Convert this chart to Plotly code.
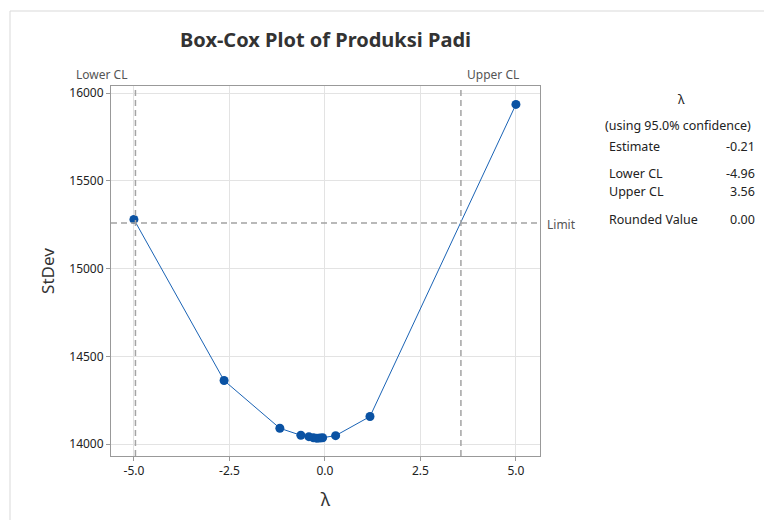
import plotly.graph_objects as go

# Data
lambdas = [-5.0, -2.64, -1.18, -0.63, -0.42, -0.30, -0.21, -0.13, -0.06, 0.28, 1.18, 5.0]
stdev = [15280, 14362, 14090, 14050, 14042, 14036, 14033, 14034, 14036, 14048, 14157, 15935]
limit_value = 15259
lower_cl = -4.96
upper_cl = 3.56
x_ticks = [-5.0, -2.5, 0.0, 2.5, 5.0]
y_ticks = [14000, 14500, 15000, 15500, 16000]
table_labels = ["Estimate", "Lower CL", "Upper CL", "Rounded Value"]
table_values = ["-0.21", "-4.96", "3.56", "0.00"]

FONT = "Noto Sans"
OFF = 8  # page body margin
W, H = 772 - OFF, 520 - OFF
L, T = 111 - OFF, 86 - OFF
PW, PH = 540 - 111, 456 - 86
R, B = W - L - PW, H - T - PH

def px(xp):
    return (xp - OFF - L) / PW

def py(yp):
    return (T + PH - (yp - OFF)) / PH

fig = go.Figure()
fig.add_trace(go.Scatter(
    x=lambdas, y=stdev, mode="lines+markers",
    line=dict(color="#1a63b5", width=1),
    marker=dict(color="#0a52a3", size=9),
    showlegend=False, hoverinfo="x+y",
))

dash_line = dict(color="#a3a3a3", width=1.5, dash="6px,4px")
shapes = []
for v in (lower_cl, upper_cl):
    shapes.append(dict(type="line", xref="x", yref="paper", x0=v, x1=v, y0=0, y1=1, line=dash_line))
shapes.append(dict(type="line", xref="paper", yref="y", x0=0, x1=1, y0=limit_value, y1=limit_value,
                   line=dash_line))
# outer frame
shapes.append(dict(type="line", xref="paper", yref="paper", x0=px(10), x1=px(10), y0=py(540), y1=py(11),
                   line=dict(color="#d9d9d9", width=1)))
shapes.append(dict(type="line", xref="paper", yref="paper", x0=px(10), x1=px(790), y0=py(11), y1=py(11),
                   line=dict(color="#d9d9d9", width=1)))

lab_font = dict(family=FONT, size=12, color="#555")
ann = []
ann.append(dict(text="Lower CL", x=lower_cl, y=1, xref="x", yref="paper", xanchor="right", yanchor="bottom",
                xshift=-6, yshift=1, showarrow=False, font=lab_font))
ann.append(dict(text="Upper CL", x=upper_cl, y=1, xref="x", yref="paper", xanchor="left", yanchor="bottom",
                xshift=4, yshift=1, showarrow=False, font=lab_font))
ann.append(dict(text="Limit", x=1, y=limit_value, xref="paper", yref="y", xanchor="left", yanchor="middle",
                xshift=5, yshift=-1, showarrow=False, font=lab_font))

tf = dict(family=FONT, size=12.5, color="#222")
ann.append(dict(text="λ", x=px(681), y=py(100), xref="paper", yref="paper", xanchor="center", yanchor="middle",
                showarrow=False, font=tf))
ann.append(dict(text="(using 95.0% confidence)", x=px(678), y=py(125), xref="paper", yref="paper",
                xanchor="center", yanchor="middle", showarrow=False, font=tf))
rows_y = [146, 173, 191, 219]
for lab, val, yy in zip(table_labels, table_values, rows_y):
    ann.append(dict(text=lab, x=px(607), y=py(yy), xref="paper", yref="paper", xanchor="left", yanchor="middle",
                    showarrow=False, font=tf))
    ann.append(dict(text=val, x=px(757), y=py(yy), xref="paper", yref="paper", xanchor="right", yanchor="middle",
                    showarrow=False, font=tf))

fig.update_layout(
    width=W, height=H,
    margin=dict(l=L, r=R, t=T, b=B),
    paper_bgcolor="white", plot_bgcolor="white",
    title=dict(text="<b>Box-Cox Plot of Produksi Padi</b>", x=((180 + 471) / 2 - OFF) / W, xanchor="center",
               y=1 - (40 - OFF) / H, yanchor="middle",
               font=dict(family=FONT, size=20, color="#333")),
    xaxis=dict(range=[-5.6, 5.63], tickvals=x_ticks, ticktext=[f"{v:.1f}" for v in x_ticks],
               showgrid=True, gridcolor="#e3e3e3", gridwidth=1, zeroline=False,
               showline=True, linecolor="#999999", linewidth=1, mirror=True,
               ticks="outside", ticklen=4, tickcolor="#999999",
               tickfont=dict(family=FONT, size=12, color="#222"),
               title=dict(text="λ", font=dict(family=FONT, size=18, color="#333"), standoff=14)),
    yaxis=dict(range=[13932, 16040], tickvals=y_ticks, ticktext=[str(v) for v in y_ticks],
               showgrid=True, gridcolor="#e3e3e3", gridwidth=1, zeroline=False,
               showline=True, linecolor="#999999", linewidth=1, mirror=True,
               ticks="outside", ticklen=4, tickcolor="#999999",
               tickfont=dict(family=FONT, size=12, color="#222"),
               title=dict(text="StDev", font=dict(family=FONT, size=17, color="#333"), standoff=10)),
    shapes=shapes, annotations=ann,
)

fig.write_html("out.html")
